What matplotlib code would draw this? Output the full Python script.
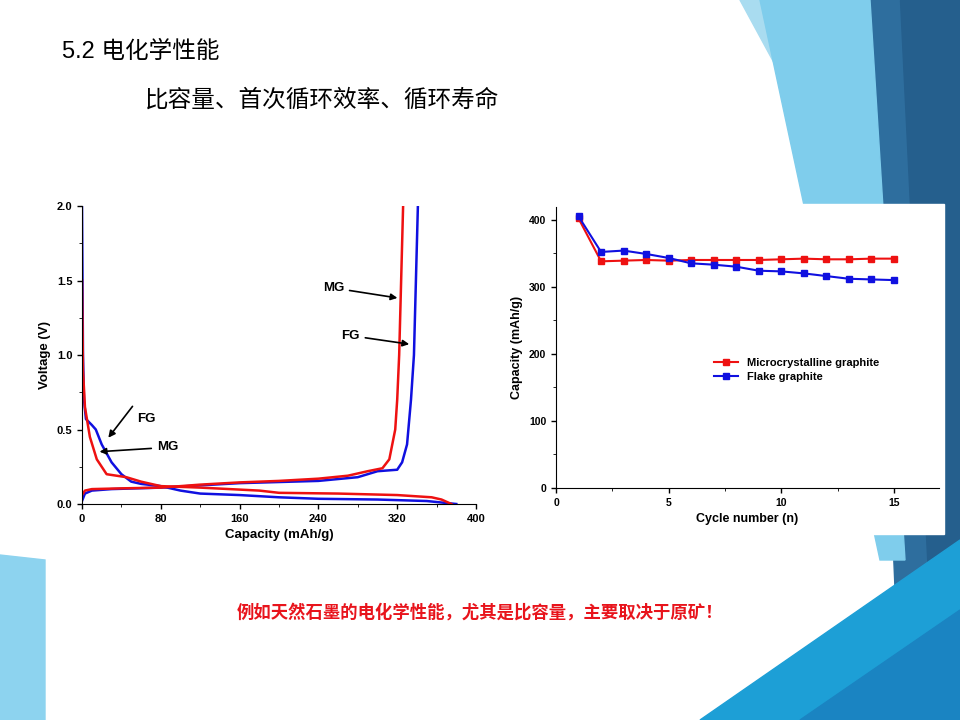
import matplotlib
matplotlib.use("Agg")
import matplotlib.pyplot as plt
from matplotlib.patches import Polygon, Rectangle

# ---- data ----
fg_dis_x = [0, 0.5, 1, 2, 4, 10, 14, 20, 30, 40, 50, 60, 80, 100, 120, 160, 200, 240, 300, 350, 380]
fg_dis_y = [2.0, 1.5, 1.0, 0.7, 0.57, 0.53, 0.50, 0.40, 0.28, 0.2, 0.15, 0.135, 0.12, 0.09, 0.07, 0.06, 0.045, 0.035, 0.03, 0.02, 0.0]
mg_dis_x = [0, 0.5, 1, 3, 8, 15, 25, 45, 60, 80, 120, 180, 200, 260, 320, 355, 365, 375]
mg_dis_y = [1.5, 1.2, 0.9, 0.65, 0.45, 0.3, 0.2, 0.18, 0.15, 0.12, 0.11, 0.09, 0.075, 0.07, 0.06, 0.045, 0.03, 0.0]
mg_ch_x = [0, 3, 10, 40, 80, 120, 160, 200, 240, 270, 290, 305, 312, 318, 320, 322, 324, 326]
mg_ch_y = [0.06, 0.09, 0.1, 0.105, 0.11, 0.13, 0.145, 0.155, 0.17, 0.19, 0.22, 0.24, 0.3, 0.5, 0.7, 1.0, 1.5, 2.0]
fg_ch_x = [0, 3, 10, 30, 80, 160, 240, 280, 300, 320, 325, 330, 334, 337, 339, 341]
fg_ch_y = [0.02, 0.07, 0.09, 0.1, 0.11, 0.14, 0.155, 0.18, 0.22, 0.23, 0.28, 0.4, 0.7, 1.0, 1.5, 2.0]

cycles = list(range(1, 16))
micro = [402, 338, 339, 340, 339, 340, 340, 340, 340, 341, 342, 341, 341, 342, 342]
flake = [405, 352, 354, 349, 343, 335, 333, 330, 324, 323, 320, 316, 312, 311, 310]

left_xticks = [0, 80, 160, 240, 320, 400]
left_yticks = [0.0, 0.5, 1.0, 1.5, 2.0]
right_xticks = [0, 5, 10, 15]
right_yticks = [0, 100, 200, 300, 400]

plt.rcParams['font.family'] = ['Liberation Sans', 'Noto Sans CJK SC', 'DejaVu Sans']
fig = plt.figure(figsize=(9.6, 7.2), dpi=100)

def P(pts):
    return [(x / 960, 1 - y / 720) for x, y in pts]

# slide decorations
deco = [
    ([(740, 0), (960, 0), (960, 300), (870, 240)], '#a9dcf0'),
    ([(870, 0), (960, 0), (960, 720), (900, 720)], '#2e6e9e'),
    ([(900, 0), (960, 0), (960, 720), (935, 720)], '#255f8d'),
    ([(760, 0), (870, 0), (905, 560), (880, 560)], '#7fcdec'),
    ([(700, 720), (960, 540), (960, 720)], '#1d9fd6'),
    ([(800, 720), (960, 610), (960, 720)], '#1a84c2'),
    ([(0, 555), (45, 560), (45, 720), (0, 720)], '#8dd3ef'),
]
for pts, c in deco:
    fig.patches.append(Polygon(P(pts), closed=True, transform=fig.transFigure, color=c, zorder=0))
fig.patches.append(Rectangle((0, 1 - 550 / 720), 500 / 960, 360 / 720, transform=fig.transFigure, color='white', zorder=1))
fig.patches.append(Rectangle((500 / 960, 1 - 534 / 720), 444 / 960, 330 / 720, transform=fig.transFigure, color='white', zorder=1))

fig.text(62 / 960, 1 - 52 / 720, '5.2 电化学性能', fontsize=17, va='center', ha='left')
fig.text(145 / 960, 1 - 100 / 720, '比容量、首次循环效率、循环寿命', fontsize=17, va='center', ha='left')
fig.text(480 / 960, 1 - 612 / 720, '例如天然石墨的电化学性能，尤其是比容量，主要取决于原矿！',
         fontsize=12.5, color='#e8141c', fontweight='bold', ha='center', va='center')

# left chart
ax1 = fig.add_axes([82 / 960, 0.3, 394 / 960, 298 / 720])
ax1.set_zorder(2)
ax1.plot(fg_dis_x, fg_dis_y, color='#1010e0', lw=1.8)
ax1.plot(fg_ch_x, fg_ch_y, color='#1010e0', lw=1.8)
ax1.plot(mg_dis_x, mg_dis_y, color='#ee1111', lw=1.8)
ax1.plot(mg_ch_x, mg_ch_y, color='#ee1111', lw=1.8)
ax1.set_xlim(0, 400)
ax1.set_ylim(0, 2.0)
ax1.set_xticks(left_xticks)
ax1.set_yticks(left_yticks)
ax1.set_xticks(range(40, 400, 80), minor=True)
ax1.set_yticks([0.25, 0.75, 1.25, 1.75], minor=True)
ax1.tick_params(labelsize=8, width=1)
for t in ax1.get_xticklabels() + ax1.get_yticklabels():
    t.set_fontweight('bold')
ax1.set_xlabel('Capacity (mAh/g)', fontsize=9.5, fontweight='bold')
ax1.set_ylabel('Voltage (V)', fontsize=9.5, fontweight='bold')
for s in ['top', 'right']:
    ax1.spines[s].set_visible(False)
ap = dict(arrowstyle='-|>', color='black', lw=1.2)
ax1.annotate('MG', xy=(323, 1.38), xytext=(266, 1.45), fontsize=9.5, fontweight='bold', va='center', ha='right', arrowprops=ap)
ax1.annotate('FG', xy=(335, 1.07), xytext=(282, 1.13), fontsize=9.5, fontweight='bold', va='center', ha='right', arrowprops=ap)
ax1.annotate('', xy=(25, 0.43), xytext=(53, 0.67), arrowprops=ap)
ax1.text(56, 0.57, 'FG', fontsize=9.5, fontweight='bold', va='center')
ax1.annotate('MG', xy=(15, 0.35), xytext=(76, 0.38), fontsize=9.5, fontweight='bold', va='center', ha='left', arrowprops=ap)

# right chart
ax2 = fig.add_axes([556 / 960, 1 - 488 / 720, 383 / 960, 281 / 720])
ax2.set_zorder(2)
ax2.plot(cycles, micro, color='#ee1111', lw=1.5, marker='s', ms=4.5, label='Microcrystalline graphite')
ax2.plot(cycles, flake, color='#1010e0', lw=1.5, marker='s', ms=4.5, label='Flake graphite')
ax2.set_xlim(0, 17)
ax2.set_ylim(0, 419)
ax2.set_xticks(right_xticks)
ax2.set_yticks(right_yticks)
ax2.set_xticks([2.5, 7.5, 12.5], minor=True)
ax2.set_yticks([50, 150, 250, 350], minor=True)
ax2.tick_params(labelsize=7.5, width=1)
for t in ax2.get_xticklabels() + ax2.get_yticklabels():
    t.set_fontweight('bold')
ax2.set_xlabel('Cycle number (n)', fontsize=9, fontweight='bold')
ax2.set_ylabel('Capacity (mAh/g)', fontsize=9, fontweight='bold')
for s in ['top', 'right']:
    ax2.spines[s].set_visible(False)
leg = ax2.legend(loc='center left', bbox_to_anchor=(0.4, 0.42), frameon=False, prop={'size': 8, 'weight': 'bold'},
                 handlelength=2.2, borderaxespad=0, labelspacing=0.4)

fig.savefig('out.png', dpi=100)
